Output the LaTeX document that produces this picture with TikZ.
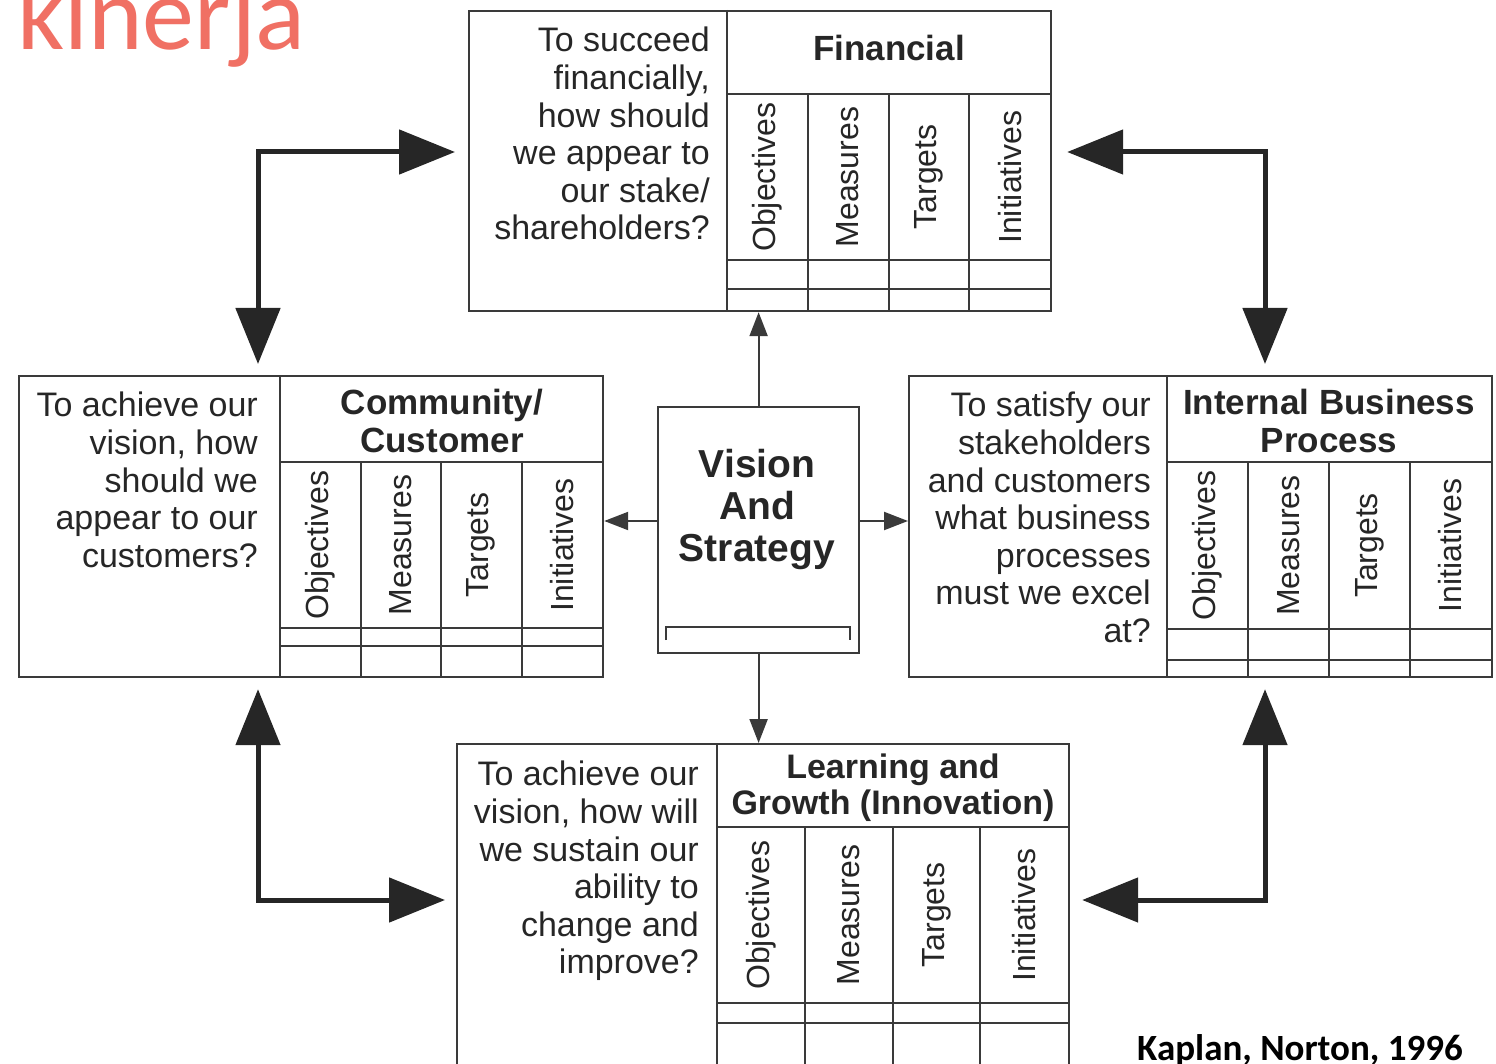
\documentclass[tikz,border=0pt]{standalone}
\usepackage{fontspec}
\setmainfont{Liberation Sans}
\newfontfamily\slidefont{Carlito}
\usetikzlibrary{arrows.meta,calc}

\definecolor{ink}{HTML}{262626}
\definecolor{rule}{HTML}{3A3A3A}
\definecolor{salmon}{HTML}{F07064}

% One balanced-scorecard perspective: outer frame, question column,
% heading cell, four rotated column labels and two empty rows.
% #1 name, #2 left, #3 top, #4 right, #5 bottom, #6 divider x,
% #7 heading rule y, #8 first row y, #9 second row y
\newcommand\scorecard[9]{%
  \node[cardbox, minimum width={#4-#2}, minimum height={#5-#3}] (#1) at (#2,#3) {};
  \draw[grid] (#6,#3) -- (#6,#5);
  \draw[grid] (#6,#7) -- (#4,#7);
  \draw[grid] (#6,#8) -- (#4,#8) (#6,#9) -- (#4,#9);
  \foreach \k in {1,2,3} {\draw[grid] ({#6+\k*(#4-#6)/4},#7) -- ({#6+\k*(#4-#6)/4},#5);}
  \foreach \lab [count=\k] in {Objectives,Measures,Targets,Initiatives}
    {\node[collabel] (#1-\k) at ({#6+(\k-0.5)*(#4-#6)/4},{(#7+#8)/2}) {\lab};}
}

\begin{document}
\begin{tikzpicture}[x=1pt,y=-1pt,
  cardbox/.style={draw=rule, line width=2.2pt, inner sep=0pt, anchor=north west},
  grid/.style={draw=rule, line width=2pt},
  question/.style={anchor=north east, align=right, inner sep=0pt, text=ink,
    font=\fontsize{34}{37.6}\selectfont},
  heading/.style={align=center, inner sep=0pt, text=ink,
    font=\bfseries\fontsize{35}{38}\selectfont},
  collabel/.style={rotate=90, inner sep=0pt, text=ink,
    font=\fontsize{32}{34}\selectfont},
  bigarrow/.style={draw=ink, line width=5pt,
    {Triangle[length=56pt,width=44pt]}-{Triangle[length=56pt,width=44pt]}},
  linkarrow/.style={draw=rule, line width=2.2pt, -{Triangle[length=24pt,width=18pt]}},
]
\useasboundingbox (0,0) rectangle (1496,1064);
\clip (0,0) rectangle (1496,1064);

% slide title and citation
\node[anchor=base west, inner sep=0pt, text=salmon,
  font=\slidefont\fontsize{104}{108}\selectfont] (title) at (17,50) {kinerja};
\node[anchor=base west, inner sep=0pt, text=black,
  font=\slidefont\bfseries\fontsize{37}{40}\selectfont] (cite) at (1137,1060) {Kaplan, Norton, 1996};

% the four perspectives
\scorecard{fin}{468}{10}{1050}{310}{727}{94}{260}{289}
\scorecard{cust}{18}{375}{602}{676}{280}{462}{628}{646}
\scorecard{proc}{908}{375}{1491}{676}{1167}{462}{629}{660}
\scorecard{learn}{456}{743}{1068}{1090}{717}{827}{1003}{1023}

\node[question] (finq) at (710,27) {To succeed\\financially,\\how should\\we appear to\\our stake/\\shareholders?};
\node[question] (custq) at (258,392) {To achieve our\\vision, how\\should we\\appear to our\\customers?};
\node[question] (procq) at (1151,392) {To satisfy our\\stakeholders\\and customers\\what business\\processes\\must we excel\\at?};
\node[question] (learnq) at (699,761) {To achieve our\\vision, how will\\we sustain our\\ability to\\change and\\improve?};

\node[heading] (fint) at (889,48) {Financial};
\node[heading] (custt) at (442,421) {Community/\\Customer};
\node[heading] (proct) at (1329,421) {Internal Business\\Process};
\node[heading, font=\bfseries\fontsize{34}{36}\selectfont] (learnt) at (893,788) {Learning and\\Growth (Innovation)};

% central vision box
\node[cardbox, minimum width=201, minimum height=246] (vis) at (657,406) {};
\node[heading, font=\bfseries\fontsize{39}{42}\selectfont] (vist) at (757,509) {Vision\\And\\Strategy};
\draw[grid] (666,640) -- (666,627) -- (850,627) -- (850,640);

% links from the vision to each perspective
\coordinate (vmid) at (757,521);
\draw[linkarrow] (vis.north) -- (vis.north |- fin.south);
\draw[linkarrow] (vis.south) -- (vis.south |- learn.north);
\draw[linkarrow] (vis.west |- vmid) -- (cust.east |- vmid);
\draw[linkarrow] (vis.east |- vmid) -- (proc.west |- vmid);

% two-headed arrows joining neighbouring perspectives
\coordinate (tl) at (258,152);
\coordinate (tr) at (1265,152);
\coordinate (bl) at (258,900);
\coordinate (br) at (1265,900);
\draw[bigarrow, shorten <=11pt, shorten >=13pt] (tl |- cust.north) -- (tl) -- (tl -| fin.west);
\draw[bigarrow, shorten <=11pt, shorten >=15pt] (tr |- proc.north) -- (tr) -- (tr -| fin.east);
\draw[bigarrow, shorten <=11pt, shorten >=11pt] (bl |- cust.south) -- (bl) -- (bl -| learn.west);
\draw[bigarrow, shorten <=11pt, shorten >=12pt] (br |- proc.south) -- (br) -- (br -| learn.east);
\end{tikzpicture}
\end{document}
